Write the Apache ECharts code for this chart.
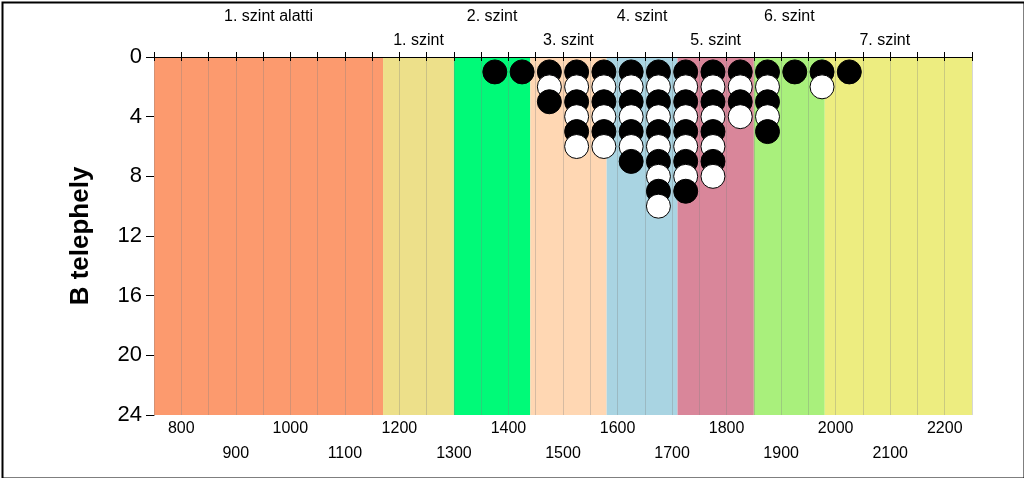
<!DOCTYPE html>
<html>
<head>
<meta charset="utf-8">
<script src="https://cdn.jsdelivr.net/npm/echarts@6/dist/echarts.min.js"></script>
<style>
html,body{margin:0;padding:0;background:#fff;}
#chart{width:1024px;height:478px;}
</style>
</head>
<body>
<div id="chart"></div>
<script>
// ---- data ----
const binCenters = [1375,1425,1475,1525,1575,1625,1675,1725,1775,1825,1875,1925,1975,2025];
const binCounts  = [1,1,3,6,6,7,10,9,8,4,5,1,2,1];
const levelNames  = ['1. szint alatti','1. szint','2. szint','3. szint','4. szint','5. szint','6. szint','7. szint'];
const levelBounds = [750,1170,1300,1440,1580,1710,1850,1980,2250];
const levelLabelX = [960,1235,1370,1510,1645,1780,1915,2090];
const levelColors = ['#fc9a6e','#ede08a','#00fa78','#ffd7b3','#a9d4e2','#d9869a','#a9f07c','#eded80'];
const yTicks = [0,4,8,12,16,20,24];

// ---- build ----
const dots = [];
binCenters.forEach((x,i)=>{
  for(let k=1;k<=binCounts[i];k++){
    dots.push({value:[x,k], itemStyle:{color:(k%2===1)?'#000':'#fff'}});
  }
});
const areas = levelNames.map((n,i)=>[
  {xAxis:levelBounds[i], itemStyle:{color:levelColors[i], opacity:1}},
  {xAxis:levelBounds[i+1]}
]);
const labels = levelNames.map((n,i)=>({
  name:n, value:[levelLabelX[i],0],
  label:{distance:(i%2===0)?32:8}
}));

const chart = echarts.init(document.getElementById('chart'));
const font = 'Liberation Sans, Arial, sans-serif';
chart.setOption({
  animation:false,
  grid:{left:154,right:52,top:57,bottom:63},
  xAxis:[{
    type:'value',min:750,max:2250,interval:50,position:'bottom',z:3,
    axisLine:{show:true,lineStyle:{color:'#000',width:1}},
    axisTick:{show:true,inside:false,length:4,lineStyle:{color:'#000'}},
    splitLine:{show:true,lineStyle:{color:'rgba(128,128,128,0.32)',width:1}},
    axisLabel:{
      color:'#000',fontSize:16,fontFamily:font,margin:1,lineHeight:25,
      showMinLabel:true,showMaxLabel:true,
      formatter:v=> (v%100!==0)?'':((v%200===0)?String(v):'\n'+v)
    }
  },{
    type:'value',min:750,max:2250,interval:50,position:'top',z:3,
    axisLine:{show:true,lineStyle:{color:'#000',width:1}},
    axisTick:{show:true,inside:false,length:5,lineStyle:{color:'#000'}},
    splitLine:{show:false},
    axisLabel:{show:false}
  }],
  yAxis:{
    type:'value',inverse:true,min:0,max:24,interval:4,
    name:'B telephely',nameLocation:'middle',nameGap:60,
    nameTextStyle:{color:'#000',fontSize:26,fontWeight:'bold',fontFamily:font},
    axisLine:{show:true,lineStyle:{color:'#000',width:1}},
    axisTick:{show:true,inside:false,length:8,lineStyle:{color:'#000'}},
    splitLine:{show:false},
    axisLabel:{color:'#000',fontSize:22,fontFamily:font,margin:12,
      formatter:v=> yTicks.includes(v)?String(v):''}
  },
  series:[{
    type:'line',data:[],z:1,silent:true,
    markArea:{silent:true,z:1,data:areas,label:{show:false}}
  },{
    type:'scatter',data:labels,symbolSize:0,z:6,silent:true,clip:false,
    itemStyle:{opacity:1},
    label:{show:true,position:'top',formatter:'{b}',color:'#000',fontSize:16,fontFamily:font}
  },{
    type:'scatter',data:dots,symbol:'circle',symbolSize:24,z:5,silent:true,
    itemStyle:{borderColor:'#000',borderWidth:1,opacity:1}
  }],
  graphic:[{type:'rect',left:0,top:0,shape:{width:1022,height:476},
    style:{fill:'none',stroke:'#000',lineWidth:2},silent:true,z:100}]
});
</script>
</body>
</html>
